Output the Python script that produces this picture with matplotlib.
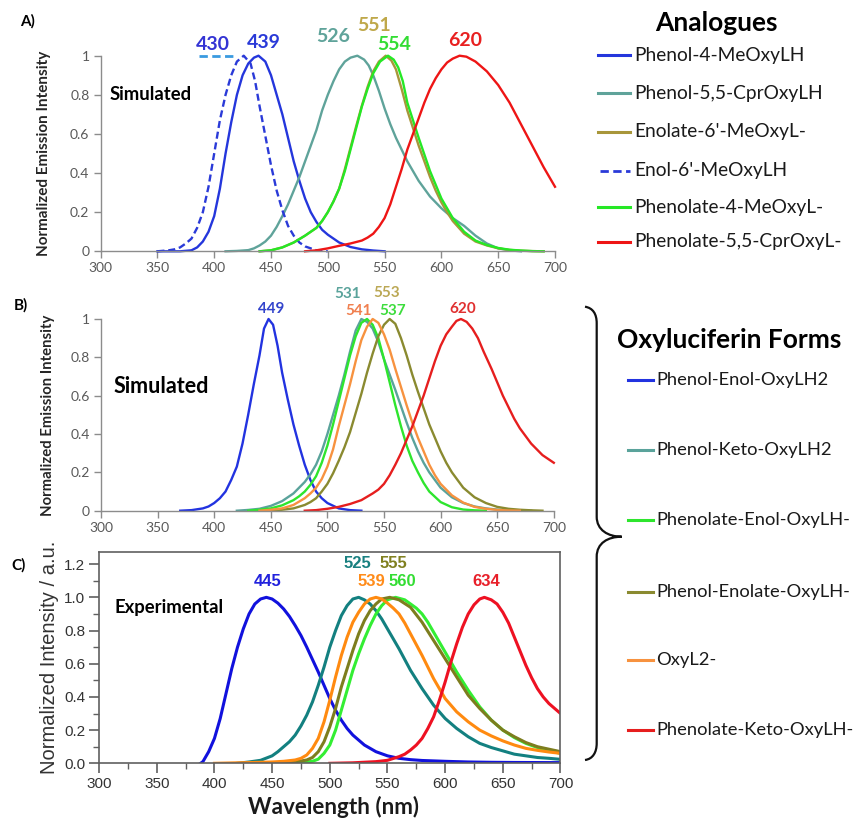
import matplotlib
matplotlib.use("Agg")
import matplotlib.pyplot as plt
from matplotlib.path import Path
from matplotlib.patches import PathPatch
from matplotlib.ticker import MultipleLocator, FuncFormatter, FormatStrFormatter

W, H = 862, 819

# ---------------- Panel A (Analogues, simulated) ----------------
a_names = ["Phenol-4-MeOxyLH", "Phenol-5,5-CprOxyLH", "Enolate-6'-MeOxyL-",
           "Enol-6'-MeOxyLH", "Phenolate-4-MeOxyL-", "Phenolate-5,5-CprOxyL-"]
a_colors = ["#2436dc", "#5fa39a", "#a8963a", "#2a3ad8", "#25e825", "#ee1515"]
a_styles = ["-", "-", "-", "--", "-", "-"]

a_x_phenol4 = [350, 360, 370, 380, 385, 390, 395, 400, 405, 410, 415, 420, 425, 430, 435, 439, 445, 450, 455, 460, 465, 470, 475, 480, 485, 490, 495, 500, 510, 520, 530, 540, 550]
a_y_phenol4 = [0, 0, 0, 0.005, 0.02, 0.05, 0.1, 0.18, 0.32, 0.5, 0.66, 0.8, 0.9, 0.96, 0.99, 1.0, 0.97, 0.9, 0.8, 0.7, 0.58, 0.46, 0.36, 0.27, 0.2, 0.15, 0.11, 0.085, 0.045, 0.022, 0.01, 0.004, 0]

a_x_cprh = [410, 420, 430, 435, 440, 445, 450, 455, 460, 465, 470, 475, 480, 485, 490, 495, 500, 505, 510, 515, 520, 526, 532, 536, 540, 545, 550, 555, 560, 565, 570, 575, 580, 590, 600, 610, 620, 630, 640, 650, 660, 670]
a_y_cprh = [0, 0.002, 0.006, 0.015, 0.03, 0.05, 0.08, 0.125, 0.18, 0.24, 0.31, 0.38, 0.46, 0.54, 0.62, 0.72, 0.8, 0.87, 0.93, 0.97, 0.99, 1.0, 0.98, 0.95, 0.9, 0.82, 0.73, 0.65, 0.58, 0.52, 0.46, 0.41, 0.36, 0.28, 0.22, 0.17, 0.13, 0.08, 0.04, 0.015, 0.005, 0]

a_x_enolate = [440, 450, 460, 470, 480, 490, 495, 500, 505, 510, 515, 520, 525, 530, 535, 540, 545, 551, 556, 560, 565, 570, 575, 580, 585, 590, 595, 600, 605, 610, 620, 630, 640, 650, 660, 670, 680, 690]
a_y_enolate = [0, 0.005, 0.02, 0.045, 0.08, 0.12, 0.155, 0.2, 0.255, 0.32, 0.42, 0.53, 0.64, 0.745, 0.84, 0.92, 0.97, 1.0, 0.975, 0.93, 0.83, 0.72, 0.63, 0.54, 0.46, 0.38, 0.31, 0.25, 0.2, 0.155, 0.09, 0.05, 0.03, 0.015, 0.007, 0.003, 0.001, 0]

a_x_enol = [350, 360, 365, 370, 375, 380, 385, 390, 395, 400, 405, 410, 415, 420, 426, 432, 436, 440, 445, 450, 455, 460, 465, 470, 475, 480, 490, 500]
a_y_enol = [0, 0.005, 0.01, 0.02, 0.04, 0.065, 0.12, 0.2, 0.33, 0.5, 0.67, 0.8, 0.9, 0.97, 1.0, 0.96, 0.87, 0.74, 0.59, 0.44, 0.31, 0.21, 0.13, 0.08, 0.045, 0.025, 0.005, 0]

a_x_phenolate4 = [440, 450, 460, 470, 480, 490, 495, 500, 505, 510, 515, 520, 525, 530, 535, 540, 546, 553, 558, 562, 566, 570, 575, 580, 585, 590, 595, 600, 605, 610, 620, 630, 640, 650, 660, 670, 680, 690]
a_y_phenolate4 = [0, 0.005, 0.02, 0.045, 0.08, 0.12, 0.155, 0.2, 0.255, 0.32, 0.41, 0.52, 0.63, 0.74, 0.83, 0.91, 0.97, 1.0, 0.98, 0.94, 0.87, 0.76, 0.67, 0.58, 0.495, 0.41, 0.34, 0.27, 0.22, 0.17, 0.1, 0.055, 0.032, 0.017, 0.008, 0.004, 0.001, 0]

a_x_cprl = [480, 490, 500, 510, 520, 530, 535, 540, 545, 550, 555, 560, 565, 570, 575, 580, 585, 590, 595, 600, 605, 610, 616, 622, 630, 640, 650, 660, 670, 680, 690, 700]
a_y_cprl = [0, 0.005, 0.015, 0.028, 0.04, 0.055, 0.07, 0.09, 0.125, 0.17, 0.24, 0.33, 0.42, 0.52, 0.6, 0.68, 0.76, 0.83, 0.885, 0.93, 0.965, 0.985, 1.0, 0.995, 0.97, 0.92, 0.85, 0.76, 0.65, 0.54, 0.43, 0.33]

a_series = [(a_x_phenol4, a_y_phenol4), (a_x_cprh, a_y_cprh), (a_x_enolate, a_y_enolate),
            (a_x_enol, a_y_enol), (a_x_phenolate4, a_y_phenolate4), (a_x_cprl, a_y_cprl)]

a_peak_labels = ["430", "439", "526", "551", "554", "620"]
a_peak_colors = ["#3434d4", "#2a3ad8", "#5fa39a", "#bfa84a", "#33dd33", "#e82020"]
a_label_pos = [(399, 1.055), (444, 1.07), (505, 1.097), (540.7, 1.152), (558, 1.055), (621, 1.077)]

# ---------------- Panel B (Oxyluciferin forms, simulated) ----------------
b_names = ["Phenol-Enol-OxyLH2", "Phenol-Keto-OxyLH2", "Phenolate-Enol-OxyLH-",
           "Phenol-Enolate-OxyLH-", "OxyL2-", "Phenolate-Keto-OxyLH-"]
b_colors = ["#2233e0", "#5aa39b", "#2ee52e", "#8a8a30", "#f7923f", "#e61e1e"]

b_x_enol = [370, 380, 390, 395, 400, 405, 410, 415, 420, 425, 430, 435, 440, 444, 448, 452, 456, 460, 465, 470, 475, 480, 485, 490, 495, 500, 510, 520, 530]
b_y_enol = [0, 0.003, 0.012, 0.022, 0.04, 0.065, 0.1, 0.16, 0.23, 0.35, 0.5, 0.66, 0.81, 0.95, 1.0, 0.97, 0.86, 0.72, 0.58, 0.45, 0.34, 0.24, 0.16, 0.1, 0.065, 0.04, 0.012, 0.003, 0]

b_x_keto = [420, 430, 440, 450, 460, 470, 475, 480, 485, 490, 495, 500, 505, 510, 515, 520, 525, 530, 535, 540, 545, 550, 555, 560, 565, 570, 575, 580, 585, 590, 600, 610, 620, 630, 640, 650, 660, 670, 680]
b_y_keto = [0, 0.004, 0.01, 0.025, 0.05, 0.09, 0.12, 0.15, 0.19, 0.24, 0.31, 0.4, 0.5, 0.6, 0.71, 0.83, 0.94, 1.0, 0.985, 0.95, 0.88, 0.79, 0.71, 0.63, 0.545, 0.46, 0.38, 0.31, 0.25, 0.2, 0.12, 0.07, 0.04, 0.022, 0.012, 0.006, 0.003, 0.001, 0]

b_x_phlenol = [430, 440, 450, 460, 470, 475, 480, 485, 490, 495, 500, 505, 510, 515, 520, 525, 530, 535, 540, 545, 550, 555, 560, 565, 570, 575, 580, 585, 590, 600, 610, 620, 630, 640]
b_y_phlenol = [0, 0.005, 0.012, 0.028, 0.055, 0.075, 0.1, 0.135, 0.18, 0.25, 0.34, 0.45, 0.57, 0.69, 0.81, 0.91, 0.98, 1.0, 0.97, 0.9, 0.79, 0.67, 0.55, 0.44, 0.34, 0.26, 0.2, 0.145, 0.1, 0.045, 0.018, 0.006, 0.002, 0]

b_x_enolate = [450, 460, 470, 480, 485, 490, 495, 500, 505, 510, 515, 520, 525, 530, 535, 540, 545, 550, 555, 560, 565, 570, 575, 580, 585, 590, 595, 600, 605, 610, 620, 630, 640, 650, 660, 670, 680, 690]
b_y_enolate = [0, 0.005, 0.012, 0.03, 0.045, 0.065, 0.1, 0.14, 0.195, 0.26, 0.33, 0.41, 0.51, 0.61, 0.72, 0.82, 0.91, 0.97, 1.0, 0.975, 0.9, 0.81, 0.71, 0.62, 0.535, 0.45, 0.38, 0.31, 0.25, 0.2, 0.12, 0.07, 0.04, 0.02, 0.01, 0.005, 0.002, 0]

b_x_oxyl2 = [440, 450, 460, 470, 480, 485, 490, 495, 500, 505, 510, 515, 520, 525, 530, 535, 540, 545, 550, 555, 560, 565, 570, 575, 580, 585, 590, 595, 600, 610, 620, 630, 640, 650, 660, 670]
b_y_oxyl2 = [0, 0.005, 0.012, 0.03, 0.065, 0.09, 0.12, 0.165, 0.23, 0.32, 0.44, 0.55, 0.66, 0.78, 0.89, 0.96, 1.0, 0.98, 0.92, 0.84, 0.74, 0.645, 0.55, 0.46, 0.38, 0.31, 0.24, 0.185, 0.14, 0.08, 0.042, 0.02, 0.01, 0.004, 0.001, 0]

b_x_phlketo = [480, 490, 500, 510, 520, 530, 540, 545, 550, 555, 560, 565, 570, 575, 580, 585, 590, 595, 600, 605, 610, 614, 618, 623, 628, 633, 638, 645, 650, 655, 660, 665, 670, 675, 680, 690, 700]
b_y_phlketo = [0, 0.003, 0.01, 0.02, 0.035, 0.055, 0.09, 0.11, 0.14, 0.185, 0.24, 0.3, 0.37, 0.44, 0.52, 0.6, 0.69, 0.78, 0.86, 0.92, 0.96, 0.99, 1.0, 0.985, 0.95, 0.9, 0.83, 0.74, 0.67, 0.6, 0.54, 0.48, 0.43, 0.39, 0.35, 0.29, 0.25]

b_series = [(b_x_enol, b_y_enol), (b_x_keto, b_y_keto), (b_x_phlenol, b_y_phlenol),
            (b_x_enolate, b_y_enolate), (b_x_oxyl2, b_y_oxyl2), (b_x_phlketo, b_y_phlketo)]

b_peak_labels = ["449", "531", "537", "553", "541", "620"]
b_peak_colors = ["#3344cc", "#5aa39b", "#3ddd3d", "#bba855", "#f08050", "#e03030"]
b_label_pos = [(450, 1.052), (518, 1.13), (557.5, 1.043), (552.3, 1.134), (527.8, 1.043), (620, 1.052)]

# ---------------- Panel C (experimental) ----------------
c_colors = ["#1111dd", "#138080", "#33ee33", "#7d7d1e", "#ff8a10", "#ee1122"]

c_x_enol = [388, 390, 395, 400, 405, 410, 415, 420, 425, 430, 435, 440, 445, 450, 455, 460, 465, 470, 475, 480, 485, 490, 495, 500, 505, 510, 515, 520, 525, 530, 540, 550, 560, 570, 580, 600, 620, 640, 660, 700]
c_y_enol = [0, 0.01, 0.07, 0.15, 0.27, 0.42, 0.57, 0.7, 0.81, 0.9, 0.96, 0.99, 1.0, 0.99, 0.965, 0.93, 0.885, 0.83, 0.77, 0.7, 0.625, 0.55, 0.47, 0.39, 0.32, 0.26, 0.21, 0.17, 0.14, 0.11, 0.07, 0.045, 0.03, 0.022, 0.017, 0.012, 0.008, 0.006, 0.005, 0.004]

c_x_keto = [420, 430, 440, 450, 455, 460, 465, 470, 475, 480, 485, 490, 495, 500, 505, 510, 515, 520, 525, 530, 535, 540, 545, 550, 555, 560, 565, 570, 575, 580, 590, 600, 610, 620, 630, 640, 650, 660, 670, 680, 690, 700]
c_y_keto = [0, 0.008, 0.018, 0.045, 0.07, 0.1, 0.13, 0.17, 0.225, 0.29, 0.37, 0.47, 0.58, 0.7, 0.8, 0.89, 0.95, 0.99, 1.0, 0.985, 0.96, 0.92, 0.87, 0.81, 0.75, 0.69, 0.625, 0.56, 0.505, 0.45, 0.35, 0.27, 0.21, 0.16, 0.12, 0.095, 0.075, 0.055, 0.045, 0.035, 0.03, 0.024]

c_x_phlenol = [450, 470, 480, 485, 490, 495, 500, 505, 510, 515, 520, 525, 530, 535, 540, 545, 550, 557, 565, 570, 575, 580, 585, 590, 595, 600, 610, 620, 630, 640, 650, 660, 670, 680, 690, 700]
c_y_phlenol = [0, 0.004, 0.008, 0.012, 0.025, 0.06, 0.11, 0.2, 0.32, 0.44, 0.56, 0.66, 0.75, 0.83, 0.9, 0.95, 0.985, 1.0, 0.985, 0.96, 0.935, 0.9, 0.85, 0.79, 0.73, 0.67, 0.55, 0.44, 0.34, 0.26, 0.2, 0.155, 0.12, 0.095, 0.075, 0.06]

c_x_enolate = [440, 460, 470, 480, 485, 490, 495, 500, 505, 510, 515, 520, 525, 530, 535, 540, 545, 552, 560, 570, 580, 590, 600, 610, 620, 630, 640, 650, 660, 670, 680, 690, 700]
c_y_enolate = [0, 0.004, 0.008, 0.02, 0.035, 0.07, 0.13, 0.22, 0.33, 0.46, 0.57, 0.68, 0.78, 0.86, 0.92, 0.96, 0.99, 1.0, 0.985, 0.94, 0.85, 0.74, 0.63, 0.52, 0.41, 0.33, 0.26, 0.2, 0.16, 0.125, 0.1, 0.085, 0.07]

c_x_oxyl2 = [400, 420, 440, 450, 460, 470, 475, 480, 485, 490, 495, 500, 505, 510, 515, 520, 525, 530, 535, 540, 545, 550, 555, 560, 565, 570, 575, 580, 585, 590, 595, 600, 610, 620, 630, 640, 650, 660, 670, 680, 690, 700]
c_y_oxyl2 = [0, 0.003, 0.006, 0.008, 0.012, 0.02, 0.03, 0.05, 0.09, 0.15, 0.25, 0.38, 0.52, 0.65, 0.76, 0.85, 0.91, 0.96, 0.99, 1.0, 0.99, 0.965, 0.935, 0.9, 0.845, 0.78, 0.715, 0.65, 0.58, 0.51, 0.45, 0.39, 0.31, 0.25, 0.2, 0.165, 0.135, 0.11, 0.09, 0.078, 0.068, 0.06]

c_x_phlketo = [500, 520, 540, 550, 560, 565, 570, 575, 580, 585, 590, 595, 600, 605, 610, 615, 620, 625, 630, 634, 640, 645, 650, 655, 660, 665, 670, 675, 680, 685, 690, 695, 700]
c_y_phlketo = [0, 0.003, 0.01, 0.018, 0.04, 0.055, 0.08, 0.11, 0.15, 0.21, 0.28, 0.38, 0.49, 0.61, 0.72, 0.82, 0.9, 0.955, 0.99, 1.0, 0.985, 0.96, 0.91, 0.845, 0.76, 0.675, 0.59, 0.515, 0.45, 0.4, 0.36, 0.33, 0.3]

c_series = [(c_x_enol, c_y_enol), (c_x_keto, c_y_keto), (c_x_phlenol, c_y_phlenol),
            (c_x_enolate, c_y_enolate), (c_x_oxyl2, c_y_oxyl2), (c_x_phlketo, c_y_phlketo)]

c_peak_labels = ["445", "525", "560", "555", "539", "634"]
c_peak_colors = ["#2222dd", "#198080", "#33dd33", "#808020", "#ff8c1a", "#e8202a"]
c_label_pos = [(446, 1.094), (523.6, 1.205), (563, 1.094), (555.3, 1.205), (536, 1.094), (636, 1.094)]

x_ticks = [300, 350, 400, 450, 500, 550, 600, 650, 700]
sim_y_ticks = [0, 0.2, 0.4, 0.6, 0.8, 1.0]
exp_y_ticks = [0.0, 0.2, 0.4, 0.6, 0.8, 1.0, 1.2]

# ---------------- figure ----------------
fig = plt.figure(figsize=(W / 100, H / 100), dpi=100)
SANS = ["Lato", "DejaVu Sans"]
ARIAL = ["Liberation Sans", "DejaVu Sans"]


def add_ax(l, r, t, b):
    return fig.add_axes([l / W, 1 - b / H, (r - l) / W, (b - t) / H])


def style_sim(ax):
    ax.set_xlim(300, 700)
    ax.set_ylim(0, 1.0)
    for s in ("top", "right"):
        ax.spines[s].set_visible(False)
    for s in ("left", "bottom"):
        ax.spines[s].set_color("#8c8c8c")
        ax.spines[s].set_linewidth(1.0)
    ax.set_xticks(x_ticks)
    ax.set_yticks(sim_y_ticks)
    ax.yaxis.set_major_formatter(FuncFormatter(lambda v, p: f"{v:g}"))
    ax.tick_params(direction="out", length=5, width=1, color="#8c8c8c",
                   labelcolor="#595959", labelsize=10, pad=3)
    for lab in ax.get_xticklabels() + ax.get_yticklabels():
        lab.set_family(SANS)
    ax.patch.set_alpha(0)


# Panel A
axA = add_ax(100.6, 555, 55.7, 251.3)
style_sim(axA)
for (x, y), c, ls in zip(a_series, a_colors, a_styles):
    if ls == "--":
        axA.plot(x, y, color=c, lw=1.7, ls=(0, (3, 1.6)), clip_on=False, solid_joinstyle="round")
    else:
        axA.plot(x, y, color=c, lw=1.7, clip_on=False, solid_joinstyle="round")
for lab, col, (px, py) in zip(a_peak_labels, a_peak_colors, a_label_pos):
    axA.text(px, py, lab, color=col, fontsize=14, fontweight="bold", family=SANS,
             ha="center", va="center", clip_on=False)
axA.plot([387, 416.5], [1.0, 1.0], color="#3a9ae0", lw=2, ls=(0, (3, 1.6)), clip_on=False)

# Panel B
axB = add_ax(101, 553.8, 319, 510.7)
style_sim(axB)
for (x, y), c in zip(b_series, b_colors):
    axB.plot(x, y, color=c, lw=1.7, clip_on=False, solid_joinstyle="round")
for lab, col, (px, py) in zip(b_peak_labels, b_peak_colors, b_label_pos):
    axB.text(px, py, lab, color=col, fontsize=11, fontweight="bold", family=SANS,
             ha="center", va="center", clip_on=False)

# Panel C
axC = add_ax(99.1, 560.5, 551.7, 763.3)
axC.set_xlim(300, 700)
axC.set_ylim(0, 1.275)
for s in axC.spines.values():
    s.set_color("#606060")
    s.set_linewidth(1.2)
axC.set_xticks(x_ticks)
axC.set_yticks(exp_y_ticks)
axC.xaxis.set_minor_locator(MultipleLocator(25))
axC.yaxis.set_minor_locator(MultipleLocator(0.1))
axC.yaxis.set_major_formatter(FormatStrFormatter("%.1f"))
axC.tick_params(which="major", direction="out", length=7, width=1.2, color="#606060",
                labelcolor="#333333", labelsize=11, pad=3)
axC.tick_params(which="minor", direction="out", length=4, width=1.0, color="#606060")
axC.tick_params(axis="x", which="both", top=False)
axC.tick_params(axis="y", which="both", right=False)
for lab in axC.get_xticklabels() + axC.get_yticklabels():
    lab.set_family(ARIAL)
for (x, y), c in zip(c_series, c_colors):
    axC.plot(x, y, color=c, lw=2.2, solid_joinstyle="round")
for lab, col, (px, py) in zip(c_peak_labels, c_peak_colors, c_label_pos):
    axC.text(px, py, lab, color=col, fontsize=12, fontweight="bold", family=ARIAL,
             ha="center", va="center", clip_on=False)

# ---------------- overlay (labels, legends, brace) ----------------
ov = fig.add_axes([0, 0, 1, 1])
ov.set_xlim(0, W)
ov.set_ylim(H, 0)
ov.axis("off")

ov.text(27.7, 21.7, "A)", fontsize=11, fontweight="bold", family=SANS, ha="center", va="center")
ov.text(21.3, 305.7, "B)", fontsize=11, fontweight="bold", family=SANS, ha="center", va="center")
ov.text(18.5, 565, "C)", fontsize=11, fontweight="bold", family=SANS, ha="center", va="center")

ov.text(110, 95, "Simulated", fontsize=13.3, fontweight="bold", family=SANS, ha="left", va="center")
ov.text(114, 386.7, "Simulated", fontsize=15.5, fontweight="bold", family=SANS, ha="left", va="center")
ov.text(114.7, 607.3, "Experimental", fontsize=13.3, fontweight="bold", family=SANS, ha="left", va="center")

ov.text(44.4, 153, "Normalized Emission Intensity", fontsize=11, fontweight="bold", family=SANS,
        color="#262626", rotation=90, ha="center", va="center")
ov.text(48, 415.5, "Normalized Emission Intensity", fontsize=10.7, fontweight="bold", family=SANS,
        color="#262626", rotation=90, ha="center", va="center")
ov.text(50, 657, "Normalized Intensity / a.u.", fontsize=14.5, family=ARIAL,
        color="#333333", rotation=90, ha="center", va="center")
ov.text(334, 806.7, "Wavelength (nm)", fontsize=16.2, fontweight="bold", family=SANS,
        color="#1a1a1a", ha="center", va="center")

# Legend: Analogues
ov.text(716.7, 23.3, "Analogues", fontsize=19, fontweight="bold", family=SANS, ha="center", va="center")
a_rows = [55, 93.3, 132, 170.5, 207, 241.7]
for name, col, ls, yy in zip(a_names, a_colors, a_styles, a_rows):
    if ls == "--":
        ov.plot([600, 630], [yy, yy], color=col, lw=2, ls=(0, (3, 1.6)))
    else:
        ov.plot([598, 630], [yy, yy], color=col, lw=2.2)
    ov.text(634, yy, name, fontsize=13.8, family=SANS, color="#1a1a1a", ha="left", va="center")

# Legend: Oxyluciferin forms
ov.text(729.5, 340, "Oxyluciferin Forms", fontsize=19, fontweight="bold", family=SANS,
        ha="center", va="center")
b_rows = [380, 450, 520, 591.7, 660, 730]
for name, col, yy in zip(b_names, b_colors, b_rows):
    ov.plot([628, 653], [yy, yy], color=col, lw=2.2)
    ov.text(656, yy, name, fontsize=13.2, family=SANS, color="#1a1a1a", ha="left", va="center")

# Curly brace
verts = [(585, 306.7), (593, 308), (596.7, 314), (596.7, 323.3),
         (596.7, 516.7),
         (596.7, 530), (608, 536.7), (621.7, 536.7),
         (608, 536.7), (596.7, 543), (596.7, 556.7),
         (596.7, 743.3),
         (596.7, 752), (593, 759), (585, 760)]
codes = [Path.MOVETO, Path.CURVE4, Path.CURVE4, Path.CURVE4,
         Path.LINETO,
         Path.CURVE4, Path.CURVE4, Path.CURVE4,
         Path.CURVE4, Path.CURVE4, Path.CURVE4,
         Path.LINETO,
         Path.CURVE4, Path.CURVE4, Path.CURVE4]
ov.add_patch(PathPatch(Path(verts, codes), fill=False, lw=1.6, ec="#111111"))

fig.savefig("out.png", dpi=100)
